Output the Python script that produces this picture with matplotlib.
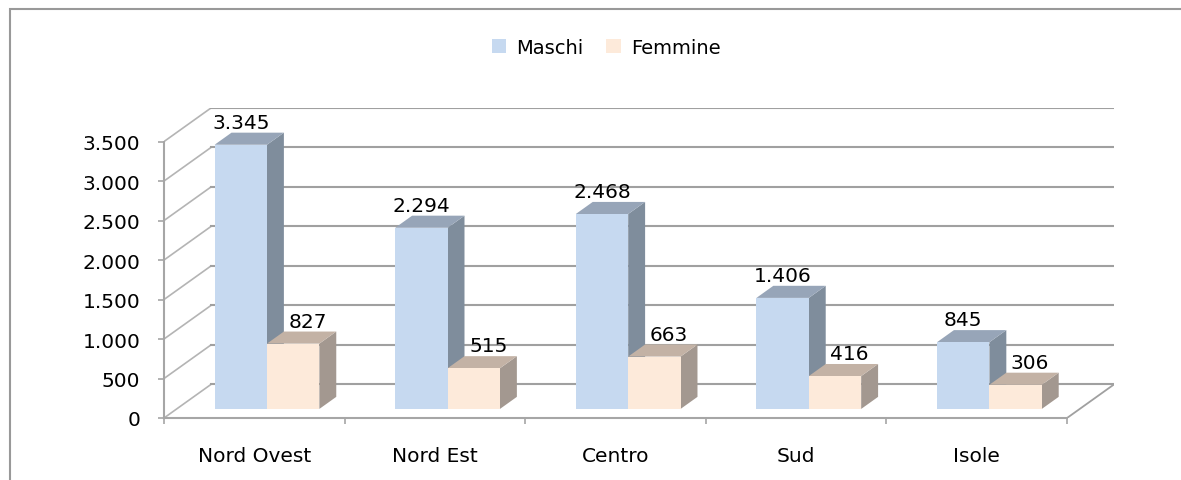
import numpy as np
import matplotlib
matplotlib.use("Agg")
import matplotlib.pyplot as plt
from matplotlib.patches import Polygon, Rectangle, Patch

regions = ["Nord Ovest", "Nord Est", "Centro", "Sud", "Isole"]
series = ["Maschi", "Femmine"]
maschi = [3345, 2294, 2468, 1406, 845]
femmine = [827, 515, 663, 416, 306]
yticks = [0, 500, 1000, 1500, 2000, 2500, 3000, 3500]

# fake 3d look: depth offset of the floor in data units
DX, DY = 0.26, 425
F0, F1 = 0.27, 0.63      # bar front / back as fraction of depth
W, GAP = 0.29, 0.21      # bar width and side gap (category units)

front_col = ["#C6D9F0", "#FDEADA"]
side_col = ["#7F8D9C", "#A39890"]
top_col = ["#97A5B8", "#C3B2A5"]
lab_shift = [0.0, 0.08]

plt.rcParams['font.family'] = ['DejaVu Sans']
fig = plt.figure(figsize=(11.81, 4.81), dpi=100)
ax = fig.add_axes([164/1181, 62/481, 950/1181, 310/481])
ymax = yticks[-1]
ax.set_xlim(0, len(regions) + DX)
ax.set_ylim(0, ymax + DY)

# walls and floor
for v in yticks:
    ax.plot([0, DX], [v, v + DY], color="#b4b4b4", lw=1.2, zorder=1)
    ax.plot([DX, len(regions) + DX], [v + DY, v + DY], color="#a0a0a0", lw=1.5, zorder=1)
ax.plot([len(regions), len(regions) + DX], [0, DY], color="#a0a0a0", lw=1.3, zorder=1)

# bars
for i in range(len(regions)):
    for j, vals in enumerate([maschi, femmine]):
        v = vals[i]
        x0 = i + GAP + j * W
        a0, b0 = F0 * DX, F0 * DY
        a1, b1 = F1 * DX, F1 * DY
        ax.add_patch(Polygon([(x0 + W + a0, b0), (x0 + W + a1, b1),
                              (x0 + W + a1, v + b1), (x0 + W + a0, v + b0)],
                             closed=True, facecolor=side_col[j], edgecolor="none", zorder=3 + 2 * i + j))
        ax.add_patch(Polygon([(x0 + a0, v + b0), (x0 + W + a0, v + b0),
                              (x0 + W + a1, v + b1), (x0 + a1, v + b1)],
                             closed=True, facecolor=top_col[j], edgecolor="none", zorder=3 + 2 * i + j))
        ax.add_patch(Rectangle((x0 + a0, b0), W, v, facecolor=front_col[j],
                               edgecolor="none", zorder=3 + 2 * i + j))
        ax.text(x0 + a0 + W / 2 + lab_shift[j], v + b1 + 10,
                f"{v:,}".replace(",", "."), ha="center", va="bottom",
                fontsize=14.5, zorder=20)

# axes
for s in ["top", "right"]:
    ax.spines[s].set_visible(False)
ax.spines["left"].set_bounds(0, ymax)
ax.spines["bottom"].set_bounds(0, len(regions))
for s in ["left", "bottom"]:
    ax.spines[s].set_color("#a6a6a6")
    ax.spines[s].set_linewidth(1.5)
ax.set_yticks(yticks)
ax.set_yticklabels([f"{v:,}".replace(",", ".") for v in yticks])
ax.tick_params(axis="y", length=4, width=1.2, color="#a6a6a6", pad=13, labelsize=14.5)
ax.set_xticks(np.arange(len(regions)) + 0.5)
ax.set_xticklabels(regions)
ax.set_xticks(np.arange(len(regions) + 1), minor=True)
ax.tick_params(axis="x", which="major", length=0, pad=20, labelsize=14.5)
ax.tick_params(axis="x", which="minor", length=4, width=1.2, color="#a6a6a6")

handles = [Patch(facecolor=c, edgecolor="none") for c in front_col]
fig.legend(handles, series, loc="center", bbox_to_anchor=(606/1181, 1 - 48/481),
           ncol=2, frameon=False, fontsize=14, handlelength=0.75, handleheight=0.75,
           handletextpad=0.5, columnspacing=1.2)

# chart border
fig.add_artist(Rectangle((10/1181, -0.1), 1.2, 1.1 - 10/481, transform=fig.transFigure,
                         fill=False, edgecolor="#999999", lw=1.5))

fig.savefig("out.png", dpi=100)
